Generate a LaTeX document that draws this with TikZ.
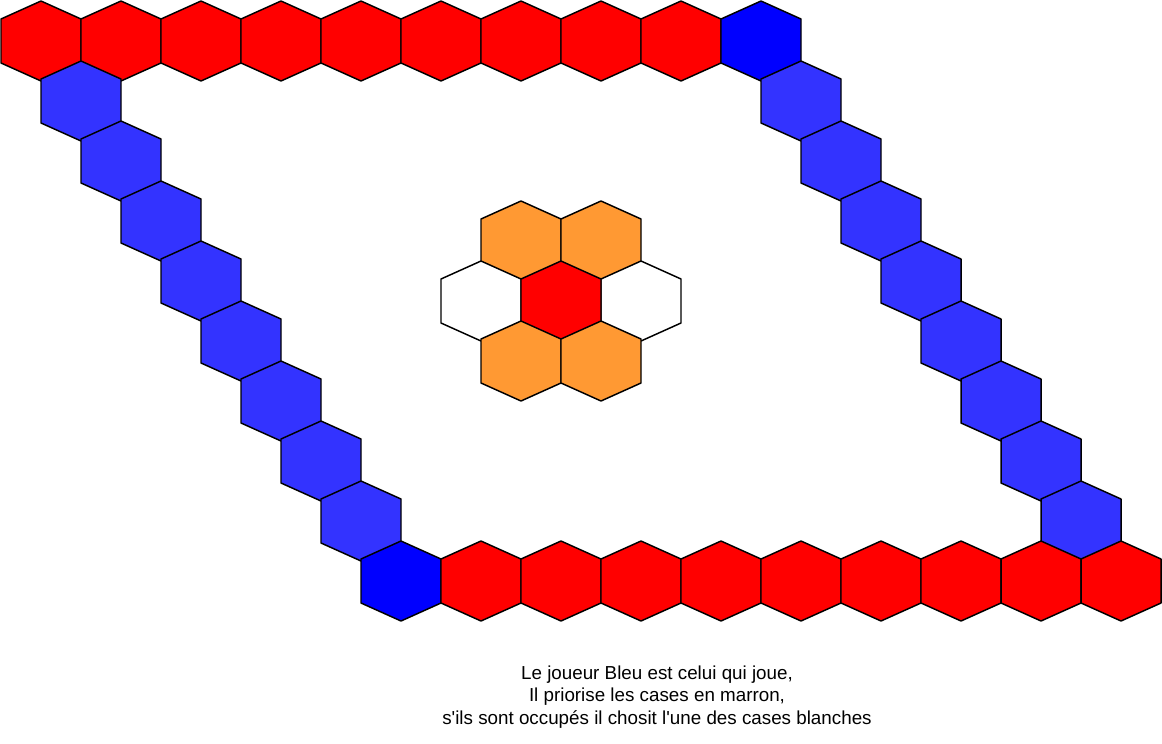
\documentclass[tikz,border=0pt]{standalone}
\usepackage{fontspec}
\setmainfont{Liberation Sans}
\definecolor{hred}{HTML}{FF0000}
\definecolor{hblue}{HTML}{0000FF}
\definecolor{hlblue}{HTML}{3333FF}
\definecolor{horange}{HTML}{FF9933}
\newcommand{\hexcell}[3]{%
  \draw[hexline,fill=#3] (#1,#2) ++(0,-40) -- ++(40,18) -- ++(0,44) -- ++(-40,18) -- ++(-40,-18) -- ++(0,-44) -- cycle;}
\newcommand{\sq}{\XeTeXglyph\the\XeTeXglyphindex "quotesingle"\relax}
\begin{document}
\begin{tikzpicture}[x=0.75pt,y=-0.75pt,hexline/.style={draw=black,line width=1.1pt,line join=round}]
\useasboundingbox (0,0) rectangle (1162,743);
% top row
\foreach \i in {0,...,8} {\hexcell{41+80*\i}{41}{hred}}
\hexcell{761}{41}{hblue}
% diagonals
\foreach \r in {1,...,8} {
  \hexcell{41+40*\r}{41+60*\r}{hlblue}
  \hexcell{761+40*\r}{41+60*\r}{hlblue}
}
% bottom row
\hexcell{401}{581}{hblue}
\foreach \i in {1,...,9} {\hexcell{401+80*\i}{581}{hred}}
% central flower
\hexcell{521}{241}{horange}
\hexcell{601}{241}{horange}
\hexcell{481}{301}{white}
\hexcell{641}{301}{white}
\hexcell{561}{301}{hred}
\hexcell{521}{361}{horange}
\hexcell{601}{361}{horange}
\node[align=center,font=\fontsize{14.1}{16.6}\selectfont] (caption) at (657,697)
  {Le joueur Bleu est celui qui joue,\\Il priorise les cases en marron,\\s\sq ils sont occupés il chosit l\sq une des cases blanches};
\end{tikzpicture}
\end{document}
